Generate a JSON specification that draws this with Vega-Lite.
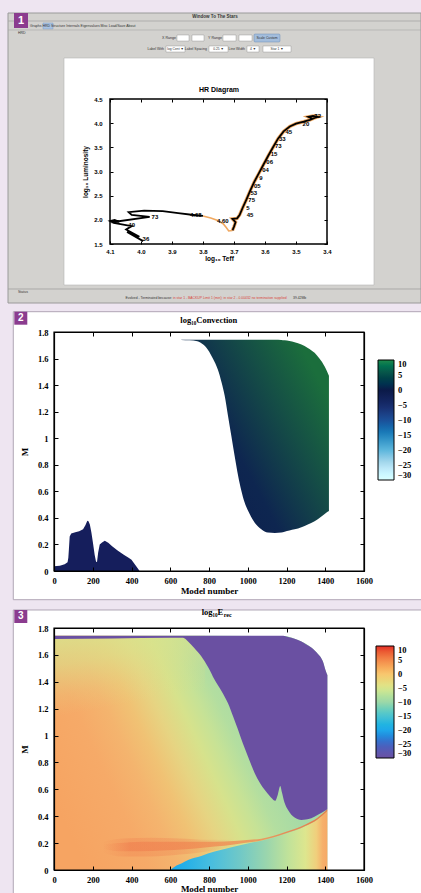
{
"$schema": "https://vega.github.io/schema/vega-lite/v6.json",
"background": "#eee5f1",
"padding": {"left": 7, "top": 12, "right": 0, "bottom": 0},
"spacing": 7,
"config": {"view": {"stroke": null}, "axis": {"grid": false, "domainColor": "black", "tickColor": "black", "labelColor": "black", "titleColor": "black"}},
"resolve": {"scale": {"color": "independent"}, "legend": {"color": "independent"}},
"datasets": {
"track": [
{"T":3.993,"L":1.56,"s":"a"},{"T":4.045,"L":1.75,"s":"a"},{"T":4.005,"L":1.65,"s":"a"},{"T":4.048,"L":1.8,"s":"a"},{"T":4.03,"L":1.87,"s":"a"},{"T":4.088,"L":1.935,"s":"a"},{"T":4.1,"L":1.975,"s":"a"},{"T":4.085,"L":2.0,"s":"a"},{"T":4.07,"L":1.96,"s":"a"},{"T":4.095,"L":1.95,"s":"a"},{"T":3.972,"L":2.06,"s":"a"},{"T":4.03,"L":2.1,"s":"a"},{"T":4.04,"L":2.16,"s":"a"},{"T":3.99,"L":2.19,"s":"a"},{"T":3.93,"L":2.18,"s":"a"},{"T":3.88,"L":2.14,"s":"a"},{"T":3.83,"L":2.1,"s":"a"},{"T":3.8,"L":2.08,"s":"a"},
{"T":3.8,"L":2.08,"s":"b"},{"T":3.775,"L":2.04,"s":"b"},{"T":3.75,"L":1.98,"s":"b"},{"T":3.735,"L":1.92,"s":"b"},{"T":3.725,"L":1.84,"s":"b"},{"T":3.717,"L":1.77,"s":"b"},{"T":3.705,"L":1.78,"s":"b"},
{"T":3.705,"L":1.78,"s":"c"},{"T":3.7,"L":1.86,"s":"c"},{"T":3.695,"L":1.95,"s":"c"},{"T":3.705,"L":2.02,"s":"c"},{"T":3.69,"L":2.03,"s":"c"},{"T":3.682,"L":2.1,"s":"c"},{"T":3.672,"L":2.25,"s":"c"},{"T":3.66,"L":2.42,"s":"c"},{"T":3.648,"L":2.6,"s":"c"},{"T":3.635,"L":2.78,"s":"c"},{"T":3.62,"L":2.96,"s":"c"},{"T":3.606,"L":3.13,"s":"c"},{"T":3.59,"L":3.32,"s":"c"},{"T":3.575,"L":3.49,"s":"c"},{"T":3.558,"L":3.68,"s":"c"},{"T":3.54,"L":3.83,"s":"c"},{"T":3.52,"L":3.93,"s":"c"},{"T":3.5,"L":3.99,"s":"c"},{"T":3.475,"L":4.03,"s":"c"},{"T":3.455,"L":4.07,"s":"c"},{"T":3.44,"L":4.11,"s":"c"},{"T":3.43,"L":4.13,"s":"c"},{"T":3.445,"L":4.15,"s":"c"},{"T":3.46,"L":4.13,"s":"c"},{"T":3.445,"L":4.09,"s":"c"}
],
"hrlabels": [
{"T":3.984,"L":1.6,"t":"36"},{"T":4.03,"L":1.9,"t":"40"},{"T":3.955,"L":2.05,"t":"73"},{"T":3.823,"L":2.1,"t":"4.68"},{"T":3.736,"L":1.97,"t":"4.60"},{"T":3.648,"L":2.09,"t":"45"},{"T":3.655,"L":2.24,"t":"5"},{"T":3.643,"L":2.41,"t":"75"},{"T":3.636,"L":2.56,"t":"53"},{"T":3.625,"L":2.71,"t":"05"},{"T":3.613,"L":2.87,"t":"9"},{"T":3.598,"L":3.03,"t":"04"},{"T":3.585,"L":3.2,"t":"06"},{"T":3.571,"L":3.36,"t":"15"},{"T":3.557,"L":3.52,"t":"73"},{"T":3.544,"L":3.67,"t":"33"},{"T":3.523,"L":3.82,"t":"45"},{"T":3.468,"L":3.99,"t":"20"},{"T":3.43,"L":4.15,"t":"72"}
],
"env": [
{"x":657,"lo":1.74,"hi":1.742},{"x":700,"lo":1.737,"hi":1.742},{"x":740,"lo":1.73,"hi":1.742},{"x":770,"lo":1.705,"hi":1.742},{"x":795,"lo":1.665,"hi":1.742},{"x":820,"lo":1.6,"hi":1.742},{"x":846,"lo":1.515,"hi":1.742},{"x":865,"lo":1.42,"hi":1.742},{"x":881,"lo":1.32,"hi":1.742},{"x":898,"lo":1.17,"hi":1.742},{"x":915,"lo":1.02,"hi":1.742},{"x":933,"lo":0.86,"hi":1.742},{"x":950,"lo":0.72,"hi":1.742},{"x":967,"lo":0.605,"hi":1.742},{"x":984,"lo":0.515,"hi":1.742},{"x":1010,"lo":0.43,"hi":1.742},{"x":1036,"lo":0.364,"hi":1.742},{"x":1070,"lo":0.315,"hi":1.742},{"x":1104,"lo":0.29,"hi":1.742},{"x":1140,"lo":0.287,"hi":1.742},{"x":1173,"lo":0.29,"hi":1.74},{"x":1190,"lo":0.296,"hi":1.737},{"x":1215,"lo":0.305,"hi":1.732},{"x":1242,"lo":0.314,"hi":1.722},{"x":1277,"lo":0.33,"hi":1.705},{"x":1310,"lo":0.35,"hi":1.68},{"x":1345,"lo":0.375,"hi":1.643},{"x":1370,"lo":0.4,"hi":1.6},{"x":1397,"lo":0.43,"hi":1.54},{"x":1410,"lo":0.445,"hi":1.5},{"x":1419,"lo":0.452,"hi":1.47}
],
"core": [
{"x":0,"hi":0.035},{"x":30,"hi":0.04},{"x":55,"hi":0.05},{"x":70,"hi":0.065},{"x":74,"hi":0.1},{"x":77,"hi":0.165},{"x":81,"hi":0.26},{"x":89,"hi":0.283},{"x":110,"hi":0.292},{"x":130,"hi":0.3},{"x":150,"hi":0.315},{"x":162,"hi":0.345},{"x":172,"hi":0.378},{"x":178,"hi":0.375},{"x":185,"hi":0.35},{"x":193,"hi":0.29},{"x":201,"hi":0.213},{"x":210,"hi":0.12},{"x":217,"hi":0.07},{"x":222,"hi":0.068},{"x":228,"hi":0.14},{"x":236,"hi":0.2},{"x":248,"hi":0.215},{"x":262,"hi":0.228},{"x":280,"hi":0.212},{"x":300,"hi":0.187},{"x":330,"hi":0.152},{"x":360,"hi":0.122},{"x":385,"hi":0.1},{"x":400,"hi":0.085},{"x":415,"hi":0.055},{"x":430,"hi":0.025},{"x":442,"hi":0}
],
"base": [{"x":0,"hi":1.742},{"x":600,"hi":1.742},{"x":1190,"hi":1.74},{"x":1242,"hi":1.72},{"x":1277,"hi":1.7},{"x":1328,"hi":1.655},{"x":1360,"hi":1.61},{"x":1388,"hi":1.55},{"x":1405,"hi":1.47},{"x":1411,"hi":1.45}],
"tint": [{"x":0},{"x":780}],
"purple": [
{"x":0,"lo":1.718,"hi":1.742},{"x":300,"lo":1.722,"hi":1.742},{"x":600,"lo":1.728,"hi":1.742},{"x":666,"lo":1.728,"hi":1.742},{"x":692,"lo":1.7,"hi":1.742},{"x":725,"lo":1.65,"hi":1.742},{"x":760,"lo":1.59,"hi":1.742},{"x":795,"lo":1.51,"hi":1.742},{"x":829,"lo":1.415,"hi":1.742},{"x":865,"lo":1.33,"hi":1.742},{"x":898,"lo":1.24,"hi":1.742},{"x":925,"lo":1.14,"hi":1.742},{"x":950,"lo":1.043,"hi":1.742},{"x":975,"lo":0.94,"hi":1.742},{"x":1001,"lo":0.845,"hi":1.742},{"x":1036,"lo":0.72,"hi":1.742},{"x":1087,"lo":0.596,"hi":1.742},{"x":1120,"lo":0.54,"hi":1.742},{"x":1142,"lo":0.515,"hi":1.742},{"x":1155,"lo":0.56,"hi":1.742},{"x":1168,"lo":0.625,"hi":1.742},{"x":1176,"lo":0.58,"hi":1.742},{"x":1190,"lo":0.5,"hi":1.74},{"x":1208,"lo":0.447,"hi":1.733},{"x":1242,"lo":0.39,"hi":1.72},{"x":1277,"lo":0.372,"hi":1.7},{"x":1300,"lo":0.375,"hi":1.68},{"x":1328,"lo":0.385,"hi":1.655},{"x":1360,"lo":0.41,"hi":1.61},{"x":1388,"lo":0.432,"hi":1.55},{"x":1405,"lo":0.447,"hi":1.47},{"x":1411,"lo":0.452,"hi":1.45}
],
"shellwide": [
{"x":250,"lo":0.13,"hi":0.21},{"x":350,"lo":0.1,"hi":0.235},{"x":500,"lo":0.1,"hi":0.24},{"x":650,"lo":0.115,"hi":0.235},{"x":800,"lo":0.14,"hi":0.225},{"x":950,"lo":0.19,"hi":0.225}
],
"shell": [
{"x":250,"lo":0.16,"hi":0.19},{"x":330,"lo":0.14,"hi":0.2},{"x":450,"lo":0.14,"hi":0.21},{"x":560,"lo":0.145,"hi":0.21},{"x":680,"lo":0.155,"hi":0.21},{"x":780,"lo":0.168,"hi":0.21},{"x":880,"lo":0.18,"hi":0.212},{"x":980,"lo":0.2,"hi":0.222},{"x":1070,"lo":0.219,"hi":0.233},{"x":1190,"lo":0.269,"hi":0.281},{"x":1300,"lo":0.329,"hi":0.341},{"x":1360,"lo":0.376,"hi":0.389},{"x":1411,"lo":0.439,"hi":0.452}
],
"wedge": [
{"x":600,"hi":0},{"x":623,"hi":0.025},{"x":660,"hi":0.05},{"x":692,"hi":0.074},{"x":760,"hi":0.105},{"x":829,"hi":0.137},{"x":932,"hi":0.175},{"x":1000,"hi":0.198},{"x":1070,"hi":0.218},{"x":1190,"hi":0.268},{"x":1300,"hi":0.328},{"x":1360,"hi":0.375},{"x":1411,"hi":0.438}
],
"cb": [{"v":-30},{"v":10}]
},
"vconcat": [
{
"width": 310, "height": 145,
"data": {"values": [{}]},
"resolve": {"axis": {"x": "independent", "y": "independent"}},
"layer": [
{"mark":{"type":"rect","fill":"#d3d2cf","stroke":"#9a9a9a","strokeWidth":1},"encoding":{"x":{"datum":4.429,"axis":null,"scale":{"domain":[3.28065,4.28065],"reverse":true,"zero":false,"nice":false}},"x2":{"datum":3.0968},"y":{"datum":6.2793,"axis":null,"scale":{"domain":[1.5,4.5],"zero":false,"nice":false}},"y2":{"datum":0.2793}}},
{"mark":{"type":"rule","color":"#a6a6a6","strokeWidth":0.8},"encoding":{"x":{"datum":4.429,"axis":null,"scale":{"domain":[3.28065,4.28065],"reverse":true,"zero":false,"nice":false}},"x2":{"datum":3.0968},"y":{"datum":6.1138,"axis":null,"scale":{"domain":[1.5,4.5],"zero":false,"nice":false}}}},
{"mark":{"type":"text","text":"Window To The Stars","font":"Liberation Sans","fontSize":4.5,"fontWeight":"bold","color":"#333333","align":"center","baseline":"middle"},"encoding":{"x":{"datum":3.7613,"axis":null,"scale":{"domain":[3.28065,4.28065],"reverse":true,"zero":false,"nice":false}},"y":{"datum":6.1966,"axis":null,"scale":{"domain":[1.5,4.5],"zero":false,"nice":false}}}},
{"mark":{"type":"rect","fill":"#a9c3e3","stroke":"#7f9cc4","strokeWidth":0.5},"encoding":{"x":{"datum":4.3161,"axis":null,"scale":{"domain":[3.28065,4.28065],"reverse":true,"zero":false,"nice":false}},"x2":{"datum":4.2839},"y":{"datum":6.0724,"axis":null,"scale":{"domain":[1.5,4.5],"zero":false,"nice":false}},"y2":{"datum":5.9483}}},
{"mark":{"type":"text","text":"Graphs    HRD    Structure   Internals   Eigenvalues   Misc   Load/Save   About","font":"Liberation Sans","fontSize":3.5,"color":"#333333","align":"left","baseline":"middle"},"encoding":{"x":{"datum":4.3581,"axis":null,"scale":{"domain":[3.28065,4.28065],"reverse":true,"zero":false,"nice":false}},"y":{"datum":6.0103,"axis":null,"scale":{"domain":[1.5,4.5],"zero":false,"nice":false}}}},
{"mark":{"type":"rule","color":"#a6a6a6","strokeWidth":0.6},"encoding":{"x":{"datum":4.429,"axis":null,"scale":{"domain":[3.28065,4.28065],"reverse":true,"zero":false,"nice":false}},"x2":{"datum":3.0968},"y":{"datum":5.9276,"axis":null,"scale":{"domain":[1.5,4.5],"zero":false,"nice":false}}}},
{"mark":{"type":"text","text":"HRD","font":"Liberation Sans","fontSize":3.5,"color":"#333333","align":"left","baseline":"middle"},"encoding":{"x":{"datum":4.3968,"axis":null,"scale":{"domain":[3.28065,4.28065],"reverse":true,"zero":false,"nice":false}},"y":{"datum":5.8655,"axis":null,"scale":{"domain":[1.5,4.5],"zero":false,"nice":false}}}},
{"mark":{"type":"text","text":"X Range","font":"Liberation Sans","fontSize":3.6,"color":"#333333","align":"right","baseline":"middle"},"encoding":{"x":{"datum":3.8871,"axis":null,"scale":{"domain":[3.28065,4.28065],"reverse":true,"zero":false,"nice":false}},"y":{"datum":5.7621,"axis":null,"scale":{"domain":[1.5,4.5],"zero":false,"nice":false}}}},
{"mark":{"type":"rect","fill":"white","stroke":"#8a8a8a","strokeWidth":0.4},"encoding":{"x":{"datum":3.8839,"axis":null,"scale":{"domain":[3.28065,4.28065],"reverse":true,"zero":false,"nice":false}},"x2":{"datum":3.8452},"y":{"datum":5.8241,"axis":null,"scale":{"domain":[1.5,4.5],"zero":false,"nice":false}},"y2":{"datum":5.7}}},
{"mark":{"type":"rect","fill":"white","stroke":"#8a8a8a","strokeWidth":0.4},"encoding":{"x":{"datum":3.8355,"axis":null,"scale":{"domain":[3.28065,4.28065],"reverse":true,"zero":false,"nice":false}},"x2":{"datum":3.7968},"y":{"datum":5.8241,"axis":null,"scale":{"domain":[1.5,4.5],"zero":false,"nice":false}},"y2":{"datum":5.7}}},
{"mark":{"type":"text","text":"Y Range","font":"Liberation Sans","fontSize":3.6,"color":"#333333","align":"right","baseline":"middle"},"encoding":{"x":{"datum":3.7387,"axis":null,"scale":{"domain":[3.28065,4.28065],"reverse":true,"zero":false,"nice":false}},"y":{"datum":5.7621,"axis":null,"scale":{"domain":[1.5,4.5],"zero":false,"nice":false}}}},
{"mark":{"type":"rect","fill":"white","stroke":"#8a8a8a","strokeWidth":0.4},"encoding":{"x":{"datum":3.7355,"axis":null,"scale":{"domain":[3.28065,4.28065],"reverse":true,"zero":false,"nice":false}},"x2":{"datum":3.6935},"y":{"datum":5.8241,"axis":null,"scale":{"domain":[1.5,4.5],"zero":false,"nice":false}},"y2":{"datum":5.7}}},
{"mark":{"type":"rect","fill":"white","stroke":"#8a8a8a","strokeWidth":0.4},"encoding":{"x":{"datum":3.6839,"axis":null,"scale":{"domain":[3.28065,4.28065],"reverse":true,"zero":false,"nice":false}},"x2":{"datum":3.6419},"y":{"datum":5.8241,"axis":null,"scale":{"domain":[1.5,4.5],"zero":false,"nice":false}},"y2":{"datum":5.7}}},
{"mark":{"type":"rect","fill":"#a3bddc","stroke":"#6f8fb5","strokeWidth":0.5,"cornerRadius":1},"encoding":{"x":{"datum":3.6355,"axis":null,"scale":{"domain":[3.28065,4.28065],"reverse":true,"zero":false,"nice":false}},"x2":{"datum":3.5516},"y":{"datum":5.8448,"axis":null,"scale":{"domain":[1.5,4.5],"zero":false,"nice":false}},"y2":{"datum":5.6793}}},
{"mark":{"type":"text","text":"Scale Custom","font":"Liberation Sans","fontSize":3.4,"color":"#333333","align":"center","baseline":"middle"},"encoding":{"x":{"datum":3.5935,"axis":null,"scale":{"domain":[3.28065,4.28065],"reverse":true,"zero":false,"nice":false}},"y":{"datum":5.7621,"axis":null,"scale":{"domain":[1.5,4.5],"zero":false,"nice":false}}}},
{"mark":{"type":"text","text":"Label With","font":"Liberation Sans","fontSize":3.5,"color":"#333333","align":"right","baseline":"middle"},"encoding":{"x":{"datum":3.9258,"axis":null,"scale":{"domain":[3.28065,4.28065],"reverse":true,"zero":false,"nice":false}},"y":{"datum":5.5345,"axis":null,"scale":{"domain":[1.5,4.5],"zero":false,"nice":false}}}},
{"mark":{"type":"rect","fill":"white","stroke":"#8a8a8a","strokeWidth":0.4},"encoding":{"x":{"datum":3.9194,"axis":null,"scale":{"domain":[3.28065,4.28065],"reverse":true,"zero":false,"nice":false}},"x2":{"datum":3.8581},"y":{"datum":5.5966,"axis":null,"scale":{"domain":[1.5,4.5],"zero":false,"nice":false}},"y2":{"datum":5.4724}}},
{"mark":{"type":"text","text":"log Cent ▼","font":"Liberation Sans","fontSize":3.3,"color":"#333333","align":"center","baseline":"middle"},"encoding":{"x":{"datum":3.8887,"axis":null,"scale":{"domain":[3.28065,4.28065],"reverse":true,"zero":false,"nice":false}},"y":{"datum":5.5345,"axis":null,"scale":{"domain":[1.5,4.5],"zero":false,"nice":false}}}},
{"mark":{"type":"text","text":"Label Spacing","font":"Liberation Sans","fontSize":3.5,"color":"#333333","align":"right","baseline":"middle"},"encoding":{"x":{"datum":3.7871,"axis":null,"scale":{"domain":[3.28065,4.28065],"reverse":true,"zero":false,"nice":false}},"y":{"datum":5.5345,"axis":null,"scale":{"domain":[1.5,4.5],"zero":false,"nice":false}}}},
{"mark":{"type":"rect","fill":"white","stroke":"#8a8a8a","strokeWidth":0.4},"encoding":{"x":{"datum":3.7806,"axis":null,"scale":{"domain":[3.28065,4.28065],"reverse":true,"zero":false,"nice":false}},"x2":{"datum":3.7194},"y":{"datum":5.5966,"axis":null,"scale":{"domain":[1.5,4.5],"zero":false,"nice":false}},"y2":{"datum":5.4724}}},
{"mark":{"type":"text","text":"0.25    ▼","font":"Liberation Sans","fontSize":3.3,"color":"#333333","align":"center","baseline":"middle"},"encoding":{"x":{"datum":3.75,"axis":null,"scale":{"domain":[3.28065,4.28065],"reverse":true,"zero":false,"nice":false}},"y":{"datum":5.5345,"axis":null,"scale":{"domain":[1.5,4.5],"zero":false,"nice":false}}}},
{"mark":{"type":"text","text":"Line Width","font":"Liberation Sans","fontSize":3.5,"color":"#333333","align":"right","baseline":"middle"},"encoding":{"x":{"datum":3.6645,"axis":null,"scale":{"domain":[3.28065,4.28065],"reverse":true,"zero":false,"nice":false}},"y":{"datum":5.5345,"axis":null,"scale":{"domain":[1.5,4.5],"zero":false,"nice":false}}}},
{"mark":{"type":"rect","fill":"white","stroke":"#8a8a8a","strokeWidth":0.4},"encoding":{"x":{"datum":3.6581,"axis":null,"scale":{"domain":[3.28065,4.28065],"reverse":true,"zero":false,"nice":false}},"x2":{"datum":3.6194},"y":{"datum":5.5966,"axis":null,"scale":{"domain":[1.5,4.5],"zero":false,"nice":false}},"y2":{"datum":5.4724}}},
{"mark":{"type":"text","text":"4  ▼","font":"Liberation Sans","fontSize":3.3,"color":"#333333","align":"center","baseline":"middle"},"encoding":{"x":{"datum":3.6387,"axis":null,"scale":{"domain":[3.28065,4.28065],"reverse":true,"zero":false,"nice":false}},"y":{"datum":5.5345,"axis":null,"scale":{"domain":[1.5,4.5],"zero":false,"nice":false}}}},
{"mark":{"type":"rect","fill":"white","stroke":"#8a8a8a","strokeWidth":0.4},"encoding":{"x":{"datum":3.6065,"axis":null,"scale":{"domain":[3.28065,4.28065],"reverse":true,"zero":false,"nice":false}},"x2":{"datum":3.5161},"y":{"datum":5.5966,"axis":null,"scale":{"domain":[1.5,4.5],"zero":false,"nice":false}},"y2":{"datum":5.4724}}},
{"mark":{"type":"text","text":"Star 1          ▼","font":"Liberation Sans","fontSize":3.3,"color":"#333333","align":"center","baseline":"middle"},"encoding":{"x":{"datum":3.5613,"axis":null,"scale":{"domain":[3.28065,4.28065],"reverse":true,"zero":false,"nice":false}},"y":{"datum":5.5345,"axis":null,"scale":{"domain":[1.5,4.5],"zero":false,"nice":false}}}},
{"mark":{"type":"rect","fill":"white","stroke":"#b5b5b5","strokeWidth":0.6},"encoding":{"x":{"datum":4.2484,"axis":null,"scale":{"domain":[3.28065,4.28065],"reverse":true,"zero":false,"nice":false}},"x2":{"datum":3.2484},"y":{"datum":5.3483,"axis":null,"scale":{"domain":[1.5,4.5],"zero":false,"nice":false}},"y2":{"datum":0.6517}}},
{"mark":{"type":"rule","color":"#a0a0a0","strokeWidth":0.8},"encoding":{"x":{"datum":4.429,"axis":null,"scale":{"domain":[3.28065,4.28065],"reverse":true,"zero":false,"nice":false}},"x2":{"datum":3.0968},"y":{"datum":0.569,"axis":null,"scale":{"domain":[1.5,4.5],"zero":false,"nice":false}}}},
{"mark":{"type":"text","text":"Status","font":"Liberation Sans","fontSize":3.5,"color":"#333333","align":"left","baseline":"middle"},"encoding":{"x":{"datum":4.3968,"axis":null,"scale":{"domain":[3.28065,4.28065],"reverse":true,"zero":false,"nice":false}},"y":{"datum":0.5069,"axis":null,"scale":{"domain":[1.5,4.5],"zero":false,"nice":false}}}},
{"mark":{"type":"text","text":"Evolved - Terminated because:","font":"Liberation Sans","fontSize":3.4,"color":"#333333","align":"right","baseline":"middle"},"encoding":{"x":{"datum":3.9,"axis":null,"scale":{"domain":[3.28065,4.28065],"reverse":true,"zero":false,"nice":false}},"y":{"datum":0.3931,"axis":null,"scale":{"domain":[1.5,4.5],"zero":false,"nice":false}}}},
{"mark":{"type":"text","text":"in star 1 - BACKUP Limit 1 (min); in star 2 - 0.00432 no termination supplied","font":"Liberation Sans","fontSize":3.4,"color":"#d9463c","align":"left","baseline":"middle"},"encoding":{"x":{"datum":3.8968,"axis":null,"scale":{"domain":[3.28065,4.28065],"reverse":true,"zero":false,"nice":false}},"y":{"datum":0.3931,"axis":null,"scale":{"domain":[1.5,4.5],"zero":false,"nice":false}}}},
{"mark":{"type":"text","text":"39.42Mb","font":"Liberation Sans","fontSize":3.4,"color":"#333333","align":"left","baseline":"middle"},"encoding":{"x":{"datum":3.5097,"axis":null,"scale":{"domain":[3.28065,4.28065],"reverse":true,"zero":false,"nice":false}},"y":{"datum":0.3931,"axis":null,"scale":{"domain":[1.5,4.5],"zero":false,"nice":false}}}},
{"mark":{"type":"rect","fill":"#8b3c8f"},"encoding":{"x":{"datum":4.4097,"axis":null,"scale":{"domain":[3.28065,4.28065],"reverse":true,"zero":false,"nice":false}},"x2":{"datum":4.3645},"y":{"datum":6.2793,"axis":null,"scale":{"domain":[1.5,4.5],"zero":false,"nice":false}},"y2":{"datum":5.969}}},
{"mark":{"type":"text","text":"1","font":"Liberation Sans","fontSize":11,"fontWeight":"bold","color":"white","align":"center","baseline":"middle"},"encoding":{"x":{"datum":4.3871,"axis":null,"scale":{"domain":[3.28065,4.28065],"reverse":true,"zero":false,"nice":false}},"y":{"datum":6.1241,"axis":null,"scale":{"domain":[1.5,4.5],"zero":false,"nice":false}}}},
{"mark":{"type":"text","text":"HR Diagram","font":"Liberation Sans","fontSize":7,"fontWeight":"bold","color":"black","align":"center","baseline":"middle"},"encoding":{"x":{"datum":3.7484,"axis":null,"scale":{"domain":[3.28065,4.28065],"reverse":true,"zero":false,"nice":false}},"y":{"datum":4.686,"axis":null,"scale":{"domain":[1.5,4.5],"zero":false,"nice":false}}}},
{"data":{"name":"track"},"transform":[{"filter":"datum.s == 'c'"}],"mark":{"type":"line","color":"#f0a860","strokeWidth":3.4},"encoding":{"x":{"field":"T","type":"quantitative","axis":null,"scale":{"domain":[3.28065,4.28065],"reverse":true,"zero":false,"nice":false}},"y":{"field":"L","type":"quantitative","axis":null,"scale":{"domain":[1.5,4.5],"zero":false,"nice":false}},"order":{"value":null}}},
{"data":{"name":"track"},"transform":[{"filter":"datum.s != 'b'"}],"mark":{"type":"line","color":"black","strokeWidth":1.8},"encoding":{"x":{"field":"T","type":"quantitative","scale":{"domain":[3.28065,4.28065],"reverse":true,"zero":false,"nice":false},"axis":{"orient":"bottom","values":[4.1,4,3.9,3.8,3.7,3.6,3.5,3.4],"domain":false,"tickSize":-3,"labelPadding":7,"labelFont":"Liberation Sans","labelFontSize":6,"labelFontWeight":"bold","labelFlush":false,"labelOverlap":false,"title":"log₁₀ Teff","titleX":165,"titleFont":"Liberation Sans","titleFontSize":6.5,"titleFontWeight":"bold","titlePadding":1,"zindex":1}},"y":{"field":"L","type":"quantitative","scale":{"domain":[1.5,4.5],"zero":false,"nice":false},"axis":{"orient":"left","offset":-56,"values":[1.5,2,2.5,3,3.5,4,4.5],"domain":false,"tickSize":-3,"labelPadding":11,"labelFont":"Liberation Sans","labelFontSize":6,"labelFontWeight":"bold","labelFlush":false,"labelOverlap":false,"title":"log₁₀ Luminosity","titleFont":"Liberation Sans","titleFontSize":6.5,"titleFontWeight":"bold","titlePadding":5,"zindex":1}},"detail":{"field":"s"},"order":{"value":null}}},
{"data":{"name":"track"},"transform":[{"filter":"datum.s == 'b'"}],"mark":{"type":"line","color":"#f0a860","strokeWidth":1.6},"encoding":{"x":{"field":"T","type":"quantitative","axis":null,"scale":{"domain":[3.28065,4.28065],"reverse":true,"zero":false,"nice":false}},"y":{"field":"L","type":"quantitative","axis":null,"scale":{"domain":[1.5,4.5],"zero":false,"nice":false}},"order":{"value":null}}},
{"data":{"name":"hrlabels"},"mark":{"type":"text","font":"Liberation Sans","fontSize":6,"fontWeight":"bold","color":"black","align":"center","baseline":"middle"},"encoding":{"x":{"field":"T","type":"quantitative","axis":null,"scale":{"domain":[3.28065,4.28065],"reverse":true,"zero":false,"nice":false}},"y":{"field":"L","type":"quantitative","axis":null,"scale":{"domain":[1.5,4.5],"zero":false,"nice":false}},"text":{"field":"t"}}},
{"mark":{"type":"rect","filled":false,"stroke":"black","strokeWidth":1.5},"encoding":{"x":{"datum":4.1,"scale":{"domain":[3.28065,4.28065],"reverse":true,"zero":false,"nice":false},"axis":{"orient":"top","values":[4.1,4,3.9,3.8,3.7,3.6,3.5,3.4],"domain":false,"tickSize":-3,"labels":false,"title":null,"zindex":1}},"x2":{"datum":3.4},"y":{"datum":1.5,"scale":{"domain":[1.5,4.5],"zero":false,"nice":false},"axis":{"orient":"right","offset":-37,"values":[1.5,2,2.5,3,3.5,4,4.5],"domain":false,"tickSize":-3,"labels":false,"title":null,"zindex":1}},"y2":{"datum":4.5}}}
]
},
{
"width": 310, "height": 239,
"data": {"values": [{}]},
"resolve": {"axis": {"x": "independent", "y": "independent"}},
"layer": [
{"mark":{"type":"rect","fill":"white","stroke":"#b0a6b6","strokeWidth":1},"encoding":{"x":{"datum":-210.1,"axis":null},"x2":{"datum":1900.9},"y":{"datum":1.9529,"axis":null},"y2":{"datum":-0.2161}}},
{"mark":{"type":"rect","fill":"white","opacity":0},"encoding":{"x":{"datum":-235.9,"axis":null},"x2":{"datum":-210.1},"y":{"datum":1.9529,"axis":null},"y2":{"datum":-0.2161}}},
{"mark":{"type":"rect","fill":"#8b3c8f"},"encoding":{"x":{"datum":-204.9,"axis":null},"x2":{"datum":-137.8},"y":{"datum":1.9529,"axis":null},"y2":{"datum":1.855}}},
{"mark":{"type":"text","text":"2","font":"Liberation Sans","fontSize":10,"fontWeight":"bold","color":"white","align":"center","baseline":"middle"},"encoding":{"x":{"datum":-171.3,"axis":null},"y":{"datum":1.904,"axis":null}}},
{"mark":{"type":"text","text":"log₁₀Convection","font":"Liberation Serif","fontSize":8.5,"fontWeight":"bold","color":"black","align":"center","baseline":"middle"},"encoding":{"x":{"datum":799,"axis":null},"y":{"datum":1.8926,"axis":null}}},
{"data":{"name":"env"},"mark":{"type":"area","interpolate":"monotone","color":{"gradient":"linear","x1":0,"y1":1,"x2":1,"y2":0.3,"stops":[{"offset":0,"color":"#0c1b4c"},{"offset":0.45,"color":"#0e2650"},{"offset":0.75,"color":"#154e46"},{"offset":1,"color":"#1b6e3c"}]}},"encoding":{"x":{"field":"x","type":"quantitative","scale":{"domain":[0,1600]},"axis":{"orient":"bottom","values":[0,200,400,600,800,1000,1200,1400,1600],"format":"d","tickSize":-4,"labelPadding":9,"labelFont":"Liberation Serif","labelFontSize":8.5,"labelFontWeight":"bold","labelFlush":false,"labelOverlap":false,"title":"Model number","titleFont":"Liberation Serif","titleFontSize":9,"titleFontWeight":"bold","titlePadding":2,"domainWidth":1.2,"zindex":1}},"y":{"field":"lo","type":"quantitative","scale":{"domain":[0,1.8]},"axis":{"orient":"left","values":[0,0.2,0.4,0.6,0.8,1,1.2,1.4,1.6,1.8],"format":"~g","tickSize":-4,"labelPadding":10,"labelFont":"Liberation Serif","labelFontSize":8.5,"labelFontWeight":"bold","labelFlush":false,"labelOverlap":false,"title":"M","titleFont":"Liberation Serif","titleFontSize":9,"titleFontWeight":"bold","titlePadding":8,"domainWidth":1.2,"zindex":1}},"y2":{"field":"hi"}}},
{"data":{"name":"core"},"mark":{"type":"area","interpolate":"linear","color":"#151e5c"},"encoding":{"x":{"field":"x","type":"quantitative","axis":null},"y":{"field":"hi","type":"quantitative","axis":null},"y2":{"datum":0}}},
{"mark":{"type":"rect","filled":false,"stroke":"black","strokeWidth":1.2},"encoding":{"x":{"datum":0,"scale":{"domain":[0,1600]},"axis":{"orient":"top","values":[0,200,400,600,800,1000,1200,1400,1600],"tickSize":-4,"labels":false,"title":null,"domainWidth":1.2,"zindex":1}},"x2":{"datum":1600},"y":{"datum":0,"scale":{"domain":[0,1.8]},"axis":{"orient":"right","values":[0,0.2,0.4,0.6,0.8,1,1.2,1.4,1.6,1.8],"tickSize":-4,"labels":false,"title":null,"domainWidth":1.2,"zindex":1}},"y2":{"datum":1.8}}},
{"data":{"name":"cb"},"mark":{"type":"point","opacity":0},"encoding":{"color":{"field":"v","type":"quantitative","scale":{"domain":[-30,-25,-20,-15,-10,-5,0,5,10],"range":["#ffffff","#b3dff0","#5cb6dc","#1e84be","#1b4f98","#172a6a","#0b1a48","#124a44","#1e8a4c"]},"legend":{"title":null,"orient":"none","legendX":324,"legendY":28,"direction":"vertical","gradientLength":120,"gradientThickness":16,"values":[10,5,0,-5,-10,-15,-20,-25,-30],"labelFont":"Liberation Serif","labelFontSize":8.5,"labelFontWeight":"bold","labelColor":"black","gradientStrokeColor":"black","gradientStrokeWidth":1,"labelOffset":4,"padding":0,"labelOverlap":false}}}}
]
},
{
"width": 310, "height": 242,
"data": {"values": [{}]},
"resolve": {"axis": {"x": "independent", "y": "independent"}},
"layer": [
{"mark":{"type":"rect","fill":"white","stroke":"#b0a6b6","strokeWidth":1},"encoding":{"x":{"datum":-210.1,"axis":null},"x2":{"datum":1900.9},"y":{"datum":1.9339,"axis":null},"y2":{"datum":-0.2008}}},
{"mark":{"type":"rect","fill":"white","opacity":0},"encoding":{"x":{"datum":-235.9,"axis":null},"x2":{"datum":-210.1},"y":{"datum":1.9339,"axis":null},"y2":{"datum":-0.2008}}},
{"mark":{"type":"rect","fill":"#8b3c8f"},"encoding":{"x":{"datum":-204.9,"axis":null},"x2":{"datum":-137.8},"y":{"datum":1.9339,"axis":null},"y2":{"datum":1.8372}}},
{"mark":{"type":"text","text":"3","font":"Liberation Sans","fontSize":10,"fontWeight":"bold","color":"white","align":"center","baseline":"middle"},"encoding":{"x":{"datum":-171.3,"axis":null},"y":{"datum":1.8856,"axis":null}}},
{"mark":{"type":"text","text":"log₁₀E","font":"Liberation Serif","fontSize":8.5,"fontWeight":"bold","color":"black","align":"right","baseline":"middle"},"encoding":{"x":{"datum":873.8,"axis":null},"y":{"datum":1.9153,"axis":null}}},
{"mark":{"type":"text","text":"rec","font":"Liberation Serif","fontSize":6,"fontWeight":"bold","color":"black","align":"left","baseline":"middle","dy":2.5},"encoding":{"x":{"datum":876,"axis":null},"y":{"datum":1.9153,"axis":null}}},
{"data":{"name":"base"},"mark":{"type":"area","interpolate":"monotone","color":{"gradient":"linear","x1":0,"y1":0.7,"x2":1,"y2":0.306,"stops":[{"offset":0,"color":"#f6a462"},{"offset":0.2,"color":"#f6aa68"},{"offset":0.3,"color":"#f4b46e"},{"offset":0.38,"color":"#f0c274"},{"offset":0.46,"color":"#e6d482"},{"offset":0.54,"color":"#d6e28c"},{"offset":0.6,"color":"#c6e296"},{"offset":0.66,"color":"#b3dea0"},{"offset":0.75,"color":"#a6daa6"},{"offset":1,"color":"#a0d8aa"}]}},"encoding":{"x":{"field":"x","type":"quantitative","scale":{"domain":[0,1600]},"axis":{"orient":"bottom","values":[0,200,400,600,800,1000,1200,1400,1600],"format":"d","tickSize":-4,"labelPadding":9,"labelFont":"Liberation Serif","labelFontSize":8.5,"labelFontWeight":"bold","labelFlush":false,"labelOverlap":false,"title":"Model number","titleFont":"Liberation Serif","titleFontSize":9,"titleFontWeight":"bold","titlePadding":1,"domainWidth":1.2,"zindex":1}},"y":{"field":"hi","type":"quantitative","scale":{"domain":[0,1.8]},"axis":{"orient":"left","values":[0,0.2,0.4,0.6,0.8,1,1.2,1.4,1.6,1.8],"format":"~g","tickSize":-4,"labelPadding":10,"labelFont":"Liberation Serif","labelFontSize":8.5,"labelFontWeight":"bold","labelFlush":false,"labelOverlap":false,"title":"M","titleFont":"Liberation Serif","titleFontSize":9,"titleFontWeight":"bold","titlePadding":8,"domainWidth":1.2,"zindex":1}},"y2":{"datum":0}}},
{"data":{"name":"tint"},"mark":{"type":"area","color":{"gradient":"linear","x1":0,"y1":0,"x2":0.25,"y2":1,"stops":[{"offset":0,"color":"rgba(216,228,142,0.85)"},{"offset":0.25,"color":"rgba(218,226,140,0.6)"},{"offset":0.5,"color":"rgba(222,222,138,0.2)"},{"offset":0.68,"color":"rgba(226,218,134,0)"},{"offset":1,"color":"rgba(226,218,134,0)"}]}},"encoding":{"x":{"field":"x","type":"quantitative","axis":null},"y":{"datum":0.9,"axis":null},"y2":{"datum":1.742}}},
{"data":{"name":"wedge"},"mark":{"type":"area","interpolate":"monotone","color":{"gradient":"linear","x1":0,"y1":0,"x2":1,"y2":0,"stops":[{"offset":0,"color":"#1aa8ea"},{"offset":0.1,"color":"#26b0e8"},{"offset":0.25,"color":"#46bde0"},{"offset":0.45,"color":"#72c9c6"},{"offset":0.62,"color":"#9cd6ac"},{"offset":0.75,"color":"#c0e29a"},{"offset":0.86,"color":"#dde68e"},{"offset":0.93,"color":"#f0cf7c"},{"offset":0.97,"color":"#f6b06a"},{"offset":1,"color":"#f6a866"}]}},"encoding":{"x":{"field":"x","type":"quantitative","axis":null},"y":{"field":"hi","type":"quantitative","axis":null},"y2":{"datum":0}}},
{"data":{"name":"shellwide"},"mark":{"type":"area","interpolate":"monotone","color":{"gradient":"linear","x1":0,"y1":0,"x2":1,"y2":0,"stops":[{"offset":0,"color":"rgba(238,120,75,0)"},{"offset":0.2,"color":"rgba(238,120,75,0.28)"},{"offset":0.6,"color":"rgba(238,120,75,0.28)"},{"offset":1,"color":"rgba(238,120,75,0)"}]}},"encoding":{"x":{"field":"x","type":"quantitative","axis":null},"y":{"field":"lo","type":"quantitative","axis":null},"y2":{"field":"hi"}}},
{"data":{"name":"shell"},"mark":{"type":"area","interpolate":"monotone","color":{"gradient":"linear","x1":0,"y1":0,"x2":1,"y2":0,"stops":[{"offset":0,"color":"rgba(240,125,78,0)"},{"offset":0.12,"color":"rgba(238,118,74,0.45)"},{"offset":0.4,"color":"rgba(240,125,76,0.6)"},{"offset":0.7,"color":"rgba(244,132,78,0.75)"},{"offset":1,"color":"rgba(240,110,60,0.9)"}]}},"encoding":{"x":{"field":"x","type":"quantitative","axis":null},"y":{"field":"lo","type":"quantitative","axis":null},"y2":{"field":"hi"}}},
{"data":{"name":"purple"},"mark":{"type":"area","interpolate":"monotone","color":"#6a50a2"},"encoding":{"x":{"field":"x","type":"quantitative","axis":null},"y":{"field":"lo","type":"quantitative","axis":null},"y2":{"field":"hi"}}},
{"mark":{"type":"rect","filled":false,"stroke":"black","strokeWidth":1.2},"encoding":{"x":{"datum":0,"scale":{"domain":[0,1600]},"axis":{"orient":"top","values":[0,200,400,600,800,1000,1200,1400,1600],"tickSize":-4,"labels":false,"title":null,"domainWidth":1.2,"zindex":1}},"x2":{"datum":1600},"y":{"datum":0,"scale":{"domain":[0,1.8]},"axis":{"orient":"right","values":[0,0.2,0.4,0.6,0.8,1,1.2,1.4,1.6,1.8],"tickSize":-4,"labels":false,"title":null,"domainWidth":1.2,"zindex":1}},"y2":{"datum":1.8}}},
{"data":{"name":"cb"},"mark":{"type":"point","opacity":0},"encoding":{"color":{"field":"v","type":"quantitative","scale":{"domain":[-30,-25,-20,-15,-10,-5,0,5,10],"range":["#6a50a2","#3f63c2","#1ea8ea","#4cc2d2","#9cd8a8","#dbe88e","#f8c66e","#f4894c","#e52d27"]},"legend":{"title":null,"orient":"none","legendX":322,"legendY":18,"direction":"vertical","gradientLength":112,"gradientThickness":18,"values":[10,5,0,-5,-10,-15,-20,-25,-30],"labelFont":"Liberation Serif","labelFontSize":8.5,"labelFontWeight":"bold","labelColor":"black","gradientStrokeColor":"black","gradientStrokeWidth":1,"labelOffset":4,"padding":0,"labelOverlap":false}}}}
]
}
]
}
